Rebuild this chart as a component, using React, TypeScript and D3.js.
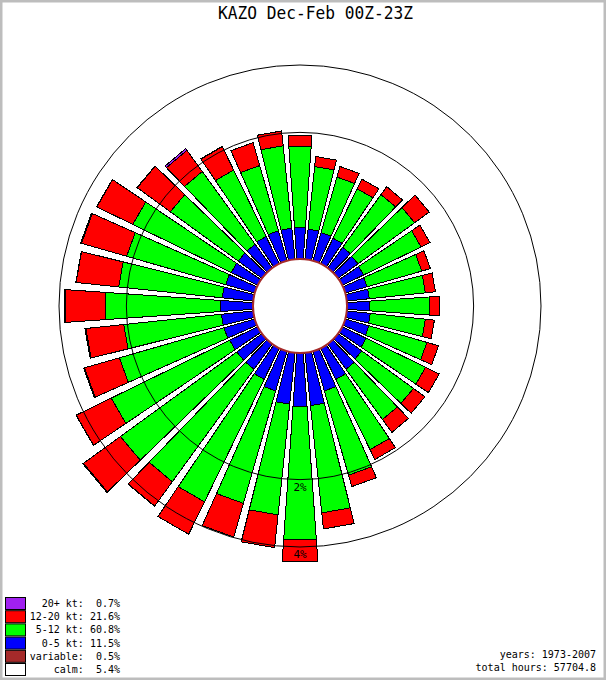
import * as d3 from "d3";

// wind directions (deg, where the wind blows from)
const directions = [
  0, 10, 20, 30, 40, 50, 60, 70, 80, 90, 100, 110, 120, 130, 140, 150, 160, 170,
  180, 190, 200, 210, 220, 230, 240, 250, 260, 270, 280, 290, 300, 310, 320, 330, 340, 350,
];

// percent of hours per direction and speed bin
const kt0to5 = [
  0.28, 0.27, 0.26, 0.25, 0.22, 0.21, 0.2, 0.19, 0.19, 0.19, 0.2, 0.21, 0.23, 0.26, 0.28, 0.32, 0.4, 0.56,
  0.57, 0.54, 0.4, 0.32, 0.28, 0.28, 0.28, 0.29, 0.29, 0.3, 0.28, 0.27, 0.26, 0.26, 0.26, 0.27, 0.28, 0.28,
];
const kt5to12 = [
  1.4, 0.98, 0.87, 0.81, 0.98, 1.07, 0.94, 0.8, 0.79, 0.86, 0.78, 0.88, 1.01, 0.99, 0.97, 1.35, 1.66, 2.38,
  3.19, 2.46, 2.46, 2.92, 2.94, 3.09, 2.72, 2.08, 1.8, 2.26, 1.94, 1.9, 2.06, 1.42, 1.56, 1.21, 1.09, 1.42,
];
const kt12to20 = [
  0.26, 0.21, 0.22, 0.21, 0.2, 0.39, 0.2, 0.17, 0.19, 0.19, 0.17, 0.24, 0.32, 0.3, 0.34, 0.26, 0.31, 0.5,
  0.77, 1.07, 1.12, 1.22, 1.0, 1.6, 1.28, 1.07, 1.07, 1.24, 1.25, 1.37, 1.18, 1.06, 0.67, 0.61, 0.54, 0.36,
];
const kt20plus = [
  0, 0, 0, 0, 0, 0, 0, 0, 0, 0, 0, 0, 0, 0, 0, 0, 0, 0,
  0, 0, 0, 0, 0.01, 0.03, 0.01, 0.03, 0.03, 0.03, 0.01, 0.03, 0.01, 0.01, 0.06, 0.01, 0, 0,
];

const ringValues = [2, 4];

const legendLabels = ["20+ kt:", "12-20 kt:", "5-12 kt:", "0-5 kt:", "variable:", "calm:"];
const legendValues = ["0.7%", "21.6%", "60.8%", "11.5%", "0.5%", "5.4%"];
const legendColors = ["#a020f0", "#ff0000", "#00ff00", "#0000ff", "#a52a2a", "#ffffff"];

const title = "KAZO Dec-Feb 00Z-23Z";
const years = "years: 1973-2007";
const totalHours = "total hours: 57704.8";

const width = 606;
const height = 680;
const cx = 300;
const cy = 306;
const mono = "'DejaVu Sans Mono', monospace";

const keys = ["kt0to5", "kt5to12", "kt12to20", "kt20plus"];
const colors: Record<string, string> = {
  kt0to5: "#0000ff",
  kt5to12: "#00ff00",
  kt12to20: "#ff0000",
  kt20plus: "#a020f0",
};

export default function App() {
  const table = directions.map((dir, i) => ({
    dir,
    kt0to5: kt0to5[i],
    kt5to12: kt5to12[i],
    kt12to20: kt12to20[i],
    kt20plus: kt20plus[i],
  }));
  const series = d3.stack<any>().keys(keys)(table);

  const r = d3.scaleRadial().domain([0, 4]).range([47, 241]);
  const half = (4 * Math.PI) / 180;

  const segment = (dir: number, p0: number, p1: number) => {
    const a = (dir * Math.PI) / 180;
    const pts: [number, number][] = [
      [r(p0), a - half],
      [r(p0), a + half],
      [r(p1), a + half],
      [r(p1), a - half],
    ].map(([rr, t]) => [cx + rr * Math.sin(t), cy - rr * Math.cos(t)]);
    return d3.line()(pts) + "Z";
  };

  return (
    <svg
      width={width}
      height={height}
      style={{ position: "absolute", left: 0, top: 0, background: "#fff" }}
    >
      <rect x={0} y={0} width={width} height={height} fill="#fff" stroke="#bdbdbd" strokeWidth={5} />

      <text
        x={315.5}
        y={19}
        textAnchor="middle"
        fontFamily={mono}
        fontSize={18}
        textLength={195}
        lengthAdjust="spacingAndGlyphs"
      >
        {title}
      </text>

      {series.map((s) => (
        <g key={s.key}>
          {s.map((d, i) =>
            d[1] - d[0] > 0 ? (
              <path
                key={i}
                d={segment(directions[i], d[0], d[1])}
                fill={colors[s.key]}
                stroke="#000"
                strokeWidth={1}
                shapeRendering="crispEdges"
              />
            ) : null
          )}
        </g>
      ))}

      {ringValues.map((v) => (
        <g key={v}>
          <circle cx={cx} cy={cy} r={r(v)} fill="none" stroke="#000" strokeWidth={1} />
          <text x={cx} y={cy + r(v) + 11} textAnchor="middle" fontFamily={mono} fontSize={11}>
            {v}%
          </text>
        </g>
      ))}

      <circle cx={cx} cy={cy} r={r(0)} fill="#fff" stroke="#a52a2a" strokeWidth={2} />

      {legendLabels.map((label, i) => (
        <g key={label}>
          <rect
            x={5.5}
            y={597.5 + i * 13.2}
            width={20}
            height={12}
            fill={legendColors[i]}
            stroke="#000"
            strokeWidth={1}
          />
          <text
            x={120}
            y={607 + i * 13.2}
            textAnchor="end"
            fontFamily={mono}
            fontSize={10}
            style={{ whiteSpace: "pre" }}
          >
            {`${label} ${legendValues[i].padStart(5, " ")}`}
          </text>
        </g>
      ))}

      <text x={596} y={658} textAnchor="end" fontFamily={mono} fontSize={10}>
        {years}
      </text>
      <text x={596} y={671} textAnchor="end" fontFamily={mono} fontSize={10}>
        {totalHours}
      </text>
    </svg>
  );
}
